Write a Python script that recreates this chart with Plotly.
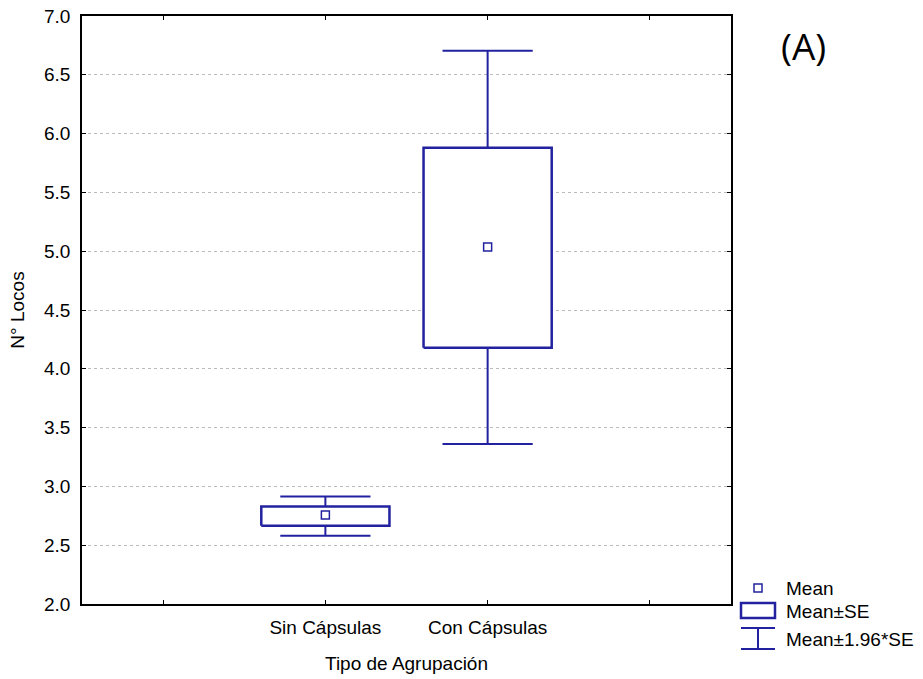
import plotly.graph_objects as go

# ---- data ----
categories = ["Sin Cápsulas", "Con Cápsulas"]
means = [2.757, 5.036]
se_low = [2.665, 4.180]        # Mean - SE
se_high = [2.830, 5.880]       # Mean + SE
ci_low = [2.580, 3.360]        # Mean - 1.96*SE
ci_high = [2.915, 6.705]       # Mean + 1.96*SE
tick_positions = [1, 2, 3, 4]
tick_labels = ["", "Sin Cápsulas", "Con Cápsulas", ""]
y_ticks = [2.0, 2.5, 3.0, 3.5, 4.0, 4.5, 5.0, 5.5, 6.0, 6.5, 7.0]

BLUE = "#2222A0"
FONT = "Liberation Sans, Arial, sans-serif"
FS = 19

W, H = 923, 679
L, R, T, B = 82, 731, 16, 604  # plot area in pixels

box_half = 0.395
cap_half = 0.278

fig = go.Figure()

for i, cat in enumerate(categories):
    pos = tick_positions[i + 1]
    # whiskers + caps
    wx = [pos, pos, None, pos - cap_half, pos + cap_half, None, pos - cap_half, pos + cap_half]
    wy = [ci_low[i], ci_high[i], None, ci_low[i], ci_low[i], None, ci_high[i], ci_high[i]]
    fig.add_trace(go.Scatter(x=wx, y=wy, mode="lines",
                             line=dict(color=BLUE, width=2), hoverinfo="skip",
                             showlegend=False))
    # box (mean ± SE)
    bx = [pos - box_half, pos + box_half, pos + box_half, pos - box_half, pos - box_half]
    by = [se_low[i], se_low[i], se_high[i], se_high[i], se_low[i]]
    fig.add_trace(go.Scatter(x=bx, y=by, mode="lines", fill="toself",
                             fillcolor="white", line=dict(color=BLUE, width=2.5),
                             hoverinfo="skip", showlegend=False))

# mean markers
fig.add_trace(go.Scatter(x=tick_positions[1:3], y=means, mode="markers",
                         marker=dict(symbol="square-open", size=8, color=BLUE,
                                     line=dict(width=1.5, color=BLUE)),
                         showlegend=False))


def px(xp):
    return (xp - L) / (R - L)


def py(yp):
    return (B - yp) / (B - T)


shapes = []
# legend icons
shapes.append(dict(type="rect", xref="paper", yref="paper",
                   x0=px(754), x1=px(762), y0=py(592), y1=py(584),
                   line=dict(color=BLUE, width=1.5), fillcolor="white"))
shapes.append(dict(type="rect", xref="paper", yref="paper",
                   x0=px(741), x1=px(775), y0=py(618), y1=py(603),
                   line=dict(color=BLUE, width=2.5), fillcolor="white"))
for (x0, y0, x1, y1) in [(741, 628, 775, 628), (758, 628, 758, 649), (741, 649, 775, 649)]:
    shapes.append(dict(type="line", xref="paper", yref="paper",
                       x0=px(x0), x1=px(x1), y0=py(y0), y1=py(y1),
                       line=dict(color=BLUE, width=2)))

annotations = []
for text, yy in [("Mean", 588), ("Mean±SE", 611), ("Mean±1.96*SE", 639)]:
    annotations.append(dict(text=text, xref="paper", yref="paper",
                            x=px(784), y=py(yy), xanchor="left", yanchor="middle",
                            showarrow=False, font=dict(family=FONT, size=FS, color="black")))
annotations.append(dict(text="(A)", xref="paper", yref="paper",
                        x=px(803), y=py(45), xanchor="center", yanchor="middle",
                        showarrow=False, font=dict(family="Open Sans, Lato, sans-serif",
                                                   size=37, color="black")))

fig.update_layout(
    width=W, height=H,
    margin=dict(l=L, r=W - R, t=T, b=H - B, pad=0, autoexpand=False),
    paper_bgcolor="white", plot_bgcolor="white",
    font=dict(family=FONT, size=FS, color="black"),
    showlegend=False,
    shapes=shapes,
    annotations=annotations,
    xaxis=dict(range=[0.5, 4.5], tickmode="array", tickvals=tick_positions,
               ticktext=tick_labels, showgrid=False, zeroline=False,
               showline=True, linecolor="black", linewidth=1.5, mirror="ticks",
               ticks="inside", ticklen=4, tickcolor="black",
               ticklabelstandoff=5, automargin=False,
               title=dict(text="Tipo de Agrupación", font=dict(size=FS), standoff=20)),
    yaxis=dict(range=[2.0, 7.0], tickmode="array", tickvals=y_ticks,
               ticktext=[f"{v:.1f}" for v in y_ticks],
               showgrid=True, gridcolor="#BBBBBB", griddash="dot", gridwidth=1,
               zeroline=False, showline=True, linecolor="black", linewidth=1.5,
               mirror="ticks", ticks="inside", ticklen=4, tickcolor="black",
               ticklabelstandoff=6, automargin=False,
               title=dict(text="N° Locos", font=dict(size=FS), standoff=14)),
)

fig.write_html("out.html")
